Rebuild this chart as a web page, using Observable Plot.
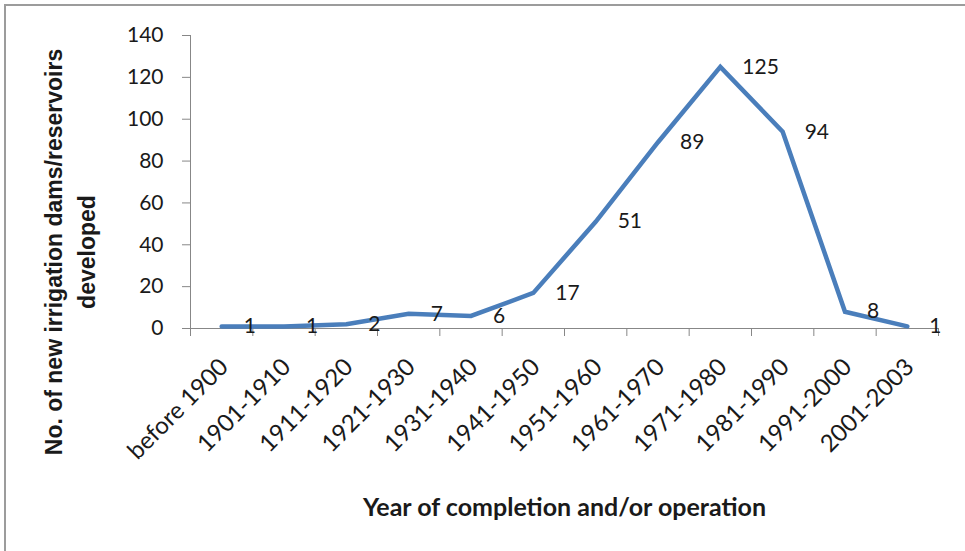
<!DOCTYPE html>
<html><head><meta charset="utf-8">
<script src="https://cdn.jsdelivr.net/npm/d3@7"></script>
<script src="https://cdn.jsdelivr.net/npm/@observablehq/plot@0.6"></script>
<style>
body{margin:0;background:#fff;}
#wrap{position:relative;width:965px;height:551px;overflow:hidden;}
#border{position:absolute;left:4px;top:4px;width:980px;height:560px;border-top:2px solid #9c9c9c;border-left:2px solid #9c9c9c;pointer-events:none;}
</style></head><body><div id="wrap"><div id="border"></div></div>
<script>
const categories = ["before 1900","1901-1910","1911-1920","1921-1930","1931-1940","1941-1950","1951-1960","1961-1970","1971-1980","1981-1990","1991-2000","2001-2003"];
const values = [1,1,2,7,6,17,51,89,125,94,8,1];
const yTicks = [0,20,40,60,80,100,120,140];
const yTitle = "No. of new irrigation dams/reservoirs\ndeveloped";
const xTitle = "Year of completion and/or operation";

const data = categories.map((c,i)=>({c, pos: i+0.5, v: values[i]}));
const boundaries = d3.range(categories.length+1);

const chart = Plot.plot({
  width:965, height:551, marginLeft:190, marginRight:27, marginTop:35, marginBottom:223,
  style:{fontFamily:"Lato, sans-serif", color:"#1a1a1a", background:"transparent"},
  x:{type:"linear", domain:[0,categories.length]},
  y:{domain:[0,140]},
  marks:[
    Plot.axisX({ticks: boundaries, tickSize: 8, tickFormat: () => "", stroke: "#878787", label: null}),
    Plot.axisY({ticks: yTicks, tickSize: 8, tickPadding: 19, fontSize: 21, label: null, stroke: "#878787"}),
    Plot.ruleX([0], {stroke:"#878787"}),
    Plot.ruleY([0], {stroke:"#878787"}),
    Plot.text(data, {x:"pos", text:"c", frameAnchor:"bottom", rotate:-45, textAnchor:"end", dx:8, dy:40, fontSize:24}),
    Plot.line(data, {x:"pos", y:"v", stroke:"#4a7ebb", strokeWidth:4.5, strokeLinejoin:"miter", strokeMiterlimit:4}),
    Plot.text(data, {x:"pos", y:"v", text: d => String(d.v), textAnchor:"start", dx:22, fontSize:21}),
    Plot.text([yTitle], {text: d => d, frameAnchor:"left", textAnchor:"middle", rotate:-90, dx:-123, dy:70, fontSize:23, fontWeight:"bold", fontFamily:"Liberation Sans, Arial, sans-serif", lineHeight:1.45}),
    Plot.text([xTitle], {text: d => d, frameAnchor:"bottom", textAnchor:"middle", dy:187, fontSize:25, fontWeight:"bold"})
  ]
});
document.getElementById("wrap").prepend(chart);
</script>
</body></html>
